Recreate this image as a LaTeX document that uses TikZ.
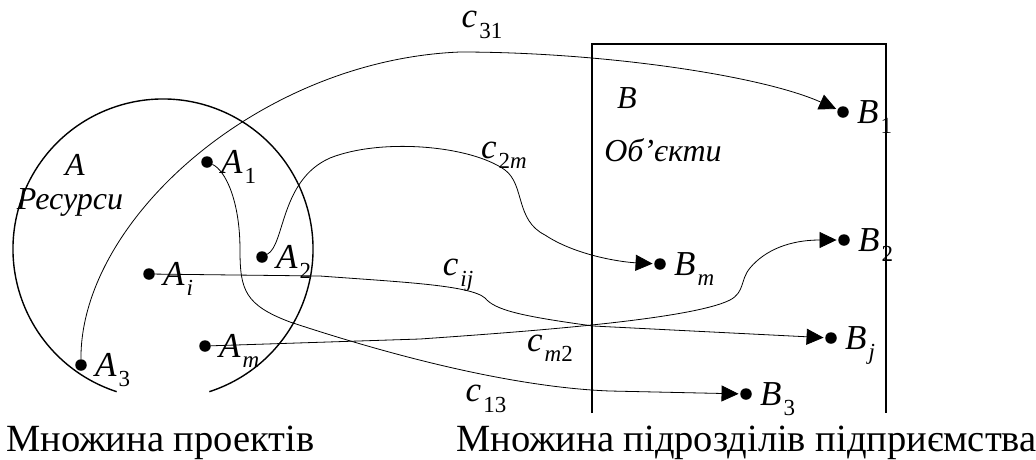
\documentclass[tikz,border=0pt]{standalone}
\usepackage{fontspec}
\setmainfont{Liberation Serif}
\usetikzlibrary{arrows.meta}
\newcommand\sbl[2]{\textit{#1}\kern2pt\raisebox{-0.3em}{\fontsize{23}{23}\selectfont #2}}
\begin{document}
\begin{tikzpicture}[x=1pt,y=-1pt,
  dot/.style={circle,fill=black,inner sep=0pt,minimum size=11.5pt},
  lab/.style={font=\fontsize{35}{35}\selectfont,inner sep=0pt,anchor=base west},
  txt/.style={font=\fontsize{32}{32}\selectfont\itshape,inner sep=0pt},
  clab/.style={font=\fontsize{35}{35}\selectfont,inner sep=0pt},
  conn/.style={line width=0.8pt,shorten >=1.5pt,-{Triangle[length=17pt,width=16pt]}},
  link/.style={line width=0.8pt},
  frame/.style={line width=1.4pt},
  caption/.style={font=\fontsize{38.5}{38.5}\selectfont,inner sep=0pt,anchor=base west}]
\useasboundingbox (0,0) rectangle (1036,459);
\fill[white] (0,0) rectangle (1036,459);

% sets
\draw[frame] (163,249) ++(-72:150pt) arc[start angle=-72,end angle=252,radius=150pt];
\draw[frame] (592,413) -- (592,44) -- (886,44) -- (886,413);

% points
\node[dot] (A1) at (207,162) {};
\node[dot] (A2) at (262,257) {};
\node[dot] (Ai) at (149,274) {};
\node[dot] (Am) at (205,346) {};
\node[dot] (A3) at (81,365) {};
\node[dot] (B1) at (843,112) {};
\node[dot] (Bm) at (660,264) {};
\node[dot] (B2) at (844,240) {};
\node[dot] (Bj) at (831,338) {};
\node[dot] (B3) at (746,394) {};

% point labels
\node[lab] (lA1) at ([shift={(14,11)}]A1.center) {\sbl{A}{1}};
\node[lab] (lA2) at ([shift={(14,11)}]A2.center) {\sbl{A}{2}};
\node[lab] (lAi) at ([shift={(14,11)}]Ai.center) {\sbl{A}{\textit{i}}};
\node[lab] (lAm) at ([shift={(14,11)}]Am.center) {\sbl{A}{\textit{m}}};
\node[lab] (lA3) at ([shift={(14,11)}]A3.center) {\sbl{A}{3}};
\node[lab] (lB1) at ([shift={(14,11)}]B1.center) {\sbl{B}{1}};
\node[lab] (lBm) at ([shift={(14,11)}]Bm.center) {\sbl{B}{\textit{m}}};
\node[lab] (lB2) at ([shift={(14,11)}]B2.center) {\sbl{B}{2}};
\node[lab] (lBj) at ([shift={(14,11)}]Bj.center) {\sbl{B}{\textit{j}}};
\node[lab] (lB3) at ([shift={(14,11)}]B3.center) {\sbl{B}{3}};

% set labels
\node[txt] (tA) at (75,165) {A};
\node[txt] (tRes) at (70,202) {Ресурси};
\node[txt] (tB) at (627,98) {B};
\node[txt] (tObj) at (663,150) {Об’єкти};

% connectors
\draw[link,conn] (A3) .. controls (80,220) and (260,60) .. (460,52)
   .. controls (600,52) and (760,75) .. (B1);
\draw[link,conn] (A2) .. controls (285,245) and (280,180) .. (330,158)
   .. controls (380,138) and (470,145) .. (505,170)
   .. controls (525,185) and (515,220) .. (545,235)
   .. controls (575,255) and (620,262) .. (Bm);
\draw[link,conn] (A1) .. controls (225,170) and (240,200) .. (240,250)
   .. controls (240,290) and (245,305) .. (290,322)
   .. controls (420,365) and (530,388) .. (610,391) -- (B3);
\draw[link,conn] (Ai) -- (320,276) .. controls (400,282) and (470,285) .. (485,298)
   .. controls (495,310) and (520,316) .. (593,326) -- (Bj);
\draw[link,conn] (Am) -- (420,339) .. controls (520,332) and (690,320) .. (730,300)
   .. controls (745,292) and (740,280) .. (750,268)
   .. controls (765,250) and (790,240) .. (B2);

% connector labels
\node[clab] (c31) at (482,25) {\sbl{c}{31}};
\node[clab] (c2m) at (504,155) {\sbl{c}{2\textit{m}}};
\node[clab] (cij) at (458,275) {\sbl{c}{\textit{ij}}};
\node[clab] (cm2) at (550,348) {\sbl{c}{\textit{m}2}};
\node[clab] (c13) at (486,399) {\sbl{c}{13}};

% captions
\node[caption] (cap1) at (6,451) {Множина проектів};
\node[caption] (cap2) at (456,451) {Множина підрозділів підприємства};
\end{tikzpicture}
\end{document}
